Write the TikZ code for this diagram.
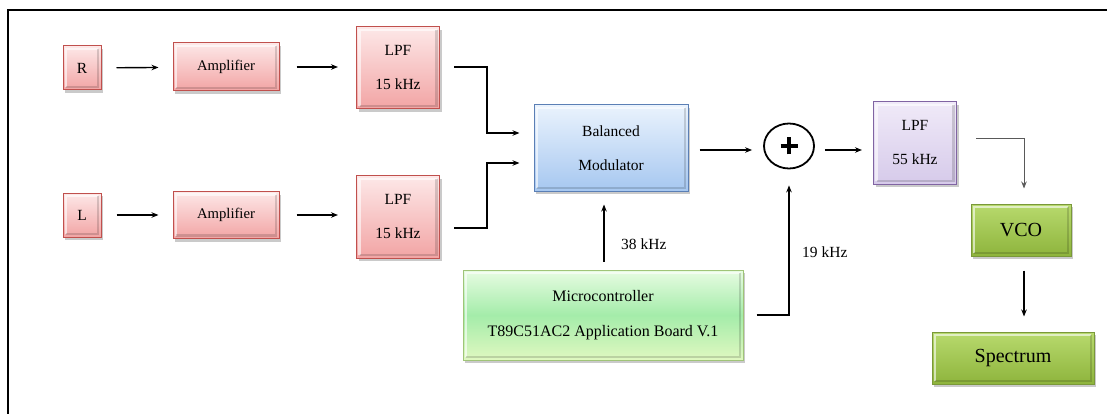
\documentclass[tikz,border=0pt]{standalone}
\usepackage{fontspec}
\setmainfont{Liberation Serif}
\newfontfamily\diagfont{Liberation Serif}
\definecolor{PinkEdge}{RGB}{192,80,77}
\definecolor{PinkTop}{RGB}{253,232,232}
\definecolor{PinkBot}{RGB}{242,164,164}
\definecolor{BlueEdge}{RGB}{91,127,181}
\definecolor{BlueTop}{RGB}{234,243,253}
\definecolor{BlueBot}{RGB}{166,199,240}
\definecolor{MintEdge}{RGB}{160,196,120}
\definecolor{MintTop}{RGB}{232,252,226}
\definecolor{MintMid}{RGB}{164,236,170}
\definecolor{MintBot}{RGB}{224,248,192}
\definecolor{LilacEdge}{RGB}{128,100,162}
\definecolor{LilacTop}{RGB}{240,234,248}
\definecolor{LilacBot}{RGB}{214,202,234}
\definecolor{OliveEdge}{RGB}{122,152,58}
\definecolor{OliveTop}{RGB}{184,218,110}
\definecolor{OliveBot}{RGB}{142,180,60}
\usetikzlibrary{arrows.meta, positioning, shadows, calc, shapes.geometric}

\begin{document}
\begin{tikzpicture}[x=1pt, y=-1pt, >={Stealth[length=7pt,width=5.5pt]},
    block/.style={draw, line width=1pt, inner sep=0pt, align=center,
        font=\diagfont\fontsize{15.5}{34}\selectfont,
        drop shadow={shadow xshift=2pt, shadow yshift=-3pt, opacity=0.35, fill=black!60},
        path picture={
            \draw[white, opacity=0.6, line width=2.5pt]
                ([shift={(3pt,3pt)}]path picture bounding box.south west) |- ([shift={(-3pt,-3pt)}]path picture bounding box.north east);
            \draw[black, opacity=0.15, line width=2.5pt]
                ([shift={(3pt,3pt)}]path picture bounding box.south west) -| ([shift={(-3pt,-3pt)}]path picture bounding box.north east);
        }},
    pinkbox/.style={block, draw=PinkEdge, top color=PinkTop, bottom color=PinkBot},
    bluebox/.style={block, draw=BlueEdge, top color=BlueTop, bottom color=BlueBot},
    mintbox/.style={block, draw=MintEdge, top color=MintTop, bottom color=MintBot, middle color=MintMid,
        font=\diagfont\fontsize{16}{35}\selectfont},
    lilacbox/.style={block, draw=LilacEdge, top color=LilacTop, bottom color=LilacBot},
    olivebox/.style={block, draw=OliveEdge, top color=OliveTop, bottom color=OliveBot,
        font=\diagfont\fontsize{20}{24}\selectfont},
    sumnode/.style={draw, ellipse, line width=1.8pt, minimum width=50, minimum height=45, inner sep=0pt,
        path picture={
            \draw[line width=3.6pt] ([xshift=-8.5pt]path picture bounding box.center) -- ([xshift=8.5pt]path picture bounding box.center);
            \draw[line width=3.6pt] ([yshift=-8.5pt]path picture bounding box.center) -- ([yshift=8.5pt]path picture bounding box.center);
        }},
    link/.style={->, line width=1.4pt},
    lbl/.style={font=\diagfont\fontsize{15.5}{18}\selectfont, anchor=west, inner sep=0pt}]
    % Canvas and frame
    \useasboundingbox (0,0) rectangle (1107,414);
    \draw[line width=1.8pt] (8,414) -- (8,10) -- (1107,10);
    % Right channel
    \node[pinkbox, minimum width=38, minimum height=44] (rin) at (82,68) {R};
    \node[pinkbox, minimum width=106, minimum height=48, font=\diagfont\fontsize{14.7}{18}\selectfont] (ampR) at (226,67) {Amplifier};
    \node[pinkbox, minimum width=83, minimum height=82] (lpfR) at (398,68) {LPF\\15 kHz};
    % Left channel
    \node[pinkbox, minimum width=38, minimum height=44] (lin) at (82,215) {L};
    \node[pinkbox, minimum width=106, minimum height=47, font=\diagfont\fontsize{14.7}{18}\selectfont] (ampL) at (226,215) {Amplifier};
    \node[pinkbox, minimum width=83, minimum height=82] (lpfL) at (398,217) {LPF\\15 kHz};
    % Modulator, adder, output filter
    \node[bluebox, minimum width=154, minimum height=86] (balmod) at (611,148) {Balanced\\Modulator};
    \node[sumnode] (adder) at (789,146) {};
    \node[lilacbox, minimum width=83, minimum height=82] (lpfout) at (915,143) {LPF\\55 kHz};
    % Microcontroller
    \node[mintbox, minimum width=280, minimum height=90] (micro) at (603,315)
        {Microcontroller\\T89C51AC2 Application Board V.1};
    % Receiver side
    \node[olivebox, minimum width=100, minimum height=52] (vco) at (1021,230) {VCO};
    \node[olivebox, minimum width=162, minimum height=52] (spec) at (1013,358) {Spectrum};
    % Labels
    \node[lbl] (lbl38) at (621,244) {38 kHz};
    \node[lbl] (lbl19) at (802,252) {19 kHz};
    % Signal path
    \draw[link, shorten <=15pt, shorten >=14pt] (rin) -- (ampR);
    \draw[link, shorten <=15pt, shorten >=14pt] (lin) -- (ampL);
    \draw[link, shorten <=17pt, shorten >=18pt] (ampR.east) -- (ampR.east -| lpfR.west);
    \draw[link, shorten <=17pt, shorten >=18pt] (ampL.east) -- (ampL.east -| lpfL.west);
    \draw[link, shorten <=14pt, shorten >=14pt] ([yshift=1pt]lpfR.east) -- ++(47,0) |- ([yshift=15pt]balmod.west);
    \draw[link, shorten <=14pt, shorten >=14pt] ([yshift=-11pt]lpfL.east) -- ++(47,0) |- ([yshift=-15pt]balmod.west);
    \draw[link, shorten <=11pt, shorten >=11pt] ([yshift=-2pt]balmod.east) -- ([yshift=-2pt]balmod.east -| adder.west);
    \draw[link, shorten <=10pt, shorten >=11pt] ([yshift=-4pt]adder.east) -- ([yshift=-4pt]adder.east -| lpfout.west);
    \draw[link, shorten <=8pt, shorten >=13pt] ([xshift=1pt]micro.north) -- ([xshift=1pt]micro.north |- balmod.south);
    \draw[link, shorten <=13pt, shorten >=16pt] (micro.east) -| (adder.south);
    \draw[->, gray!70!black, line width=0.9pt, shorten <=19pt, shorten >=15pt] ([yshift=5pt]lpfout.east) -| ([xshift=3pt]vco.north);
    \draw[link, shorten <=14pt, shorten >=15pt] ([xshift=3pt]vco.south) -- ([xshift=3pt]vco.south |- spec.north);
\end{tikzpicture}
\end{document}
